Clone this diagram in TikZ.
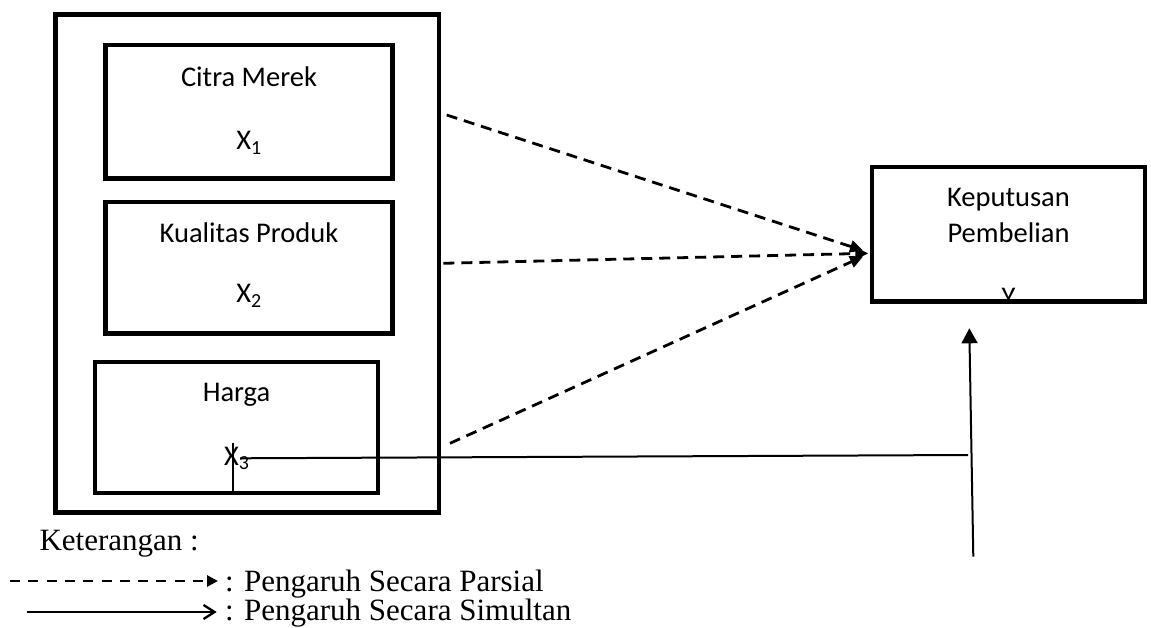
\documentclass[tikz,border=0pt]{standalone}
\usepackage{fontspec}
\setmainfont{Liberation Serif}
\newfontfamily\boxfont{Carlito}
\usetikzlibrary{arrows.meta}
\begin{document}
\begin{tikzpicture}[x=1pt,y=-1pt,
  box/.style={draw, line width=4.5pt, inner sep=0pt, rectangle},
  lbl/.style={font=\boxfont\fontsize{28.5}{34}\selectfont, anchor=base, inner sep=0pt},
  leg/.style={font=\fontsize{31}{37}\selectfont, anchor=base west, inner sep=0pt},
  partial/.style={dash pattern=on 11pt off 7pt, line width=2.8pt, -{Triangle[length=13pt,width=12pt]}},
  simul/.style={line width=2pt},
]
\useasboundingbox (0,0) rectangle (1151,628);
% boxes
\node[box, minimum width=383.5pt, minimum height=498pt] (outer) at (247.25,263.5) {};
\node[box, minimum width=286.6pt, minimum height=133.9pt] (b1) at (249,111.75) {};
\node[box, minimum width=286.6pt, minimum height=131.9pt] (b2) at (249,267.75) {};
\node[box, minimum width=283pt, minimum height=131pt] (b3) at (236.5,427.5) {};
% texts in boxes
\node[lbl] (t1) at (249,86.7) {Citra Merek};
\node[lbl] (x1) at (249,150) {X\textsubscript{1}};
\node[lbl] (t2) at (249,243) {Kualitas Produk};
\node[lbl] (x2) at (249,303) {X\textsubscript{2}};
\node[lbl] (t3) at (236.5,401) {Harga};
\node[lbl, anchor=base west] (x3) at (224,465) {X\textsubscript{3}};
% Y box
\begin{scope}
\clip (872,167) rectangle (1145,298.5);
\node[lbl] (ylab) at (1008.5,306.4) {Y};
\end{scope}
\node[box, minimum width=273pt, minimum height=134.7pt] (yb) at (1008.5,234.35) {};
\node[lbl] (ty1) at (1008.5,206.7) {Keputusan};
\node[lbl] (ty2) at (1008.5,242.7) {Pembelian};
% partial arrows
\coordinate (p1s) at (446.7,115);
\coordinate (p2s) at (443.3,263.3);
\coordinate (p3s) at (450,443.3);
\coordinate (p1e) at (863,250.5);
\coordinate (p2e) at (868.3,253.3);
\coordinate (p3e) at (863,256.5);
\draw[partial] (p1s) -- (p1e);
\draw[partial] (p2s) -- (p2e);
\draw[partial] (p3s) -- (p3e);
% simultaneous
\coordinate (vtop) at (233,443);
\draw[simul] (vtop) -- (vtop |- b3.south);
\coordinate (hs) at (240,458.3);
\coordinate (he) at (968,455);
\draw[simul] (hs) -- (he);
\coordinate (vs) at (973.3,556.7);
\coordinate (vt) at (969.3,328.3);
\draw[simul, -{Triangle[length=15pt,width=16pt]}] (vs) -- (vt);
% legend
\node[leg] (ket) at (39.3,550) {Keterangan :};
\coordinate (l1s) at (10,581);
\coordinate (l1e) at (218,581);
\draw[dash pattern=on 10pt off 8.3pt, line width=2.7pt, -{Triangle[length=11pt,width=11pt]}] (l1s) -- (l1e);
\node[leg] (lp) at (225,591.5) {: Pengaruh Secara Parsial};
\coordinate (l2s) at (26.7,612);
\coordinate (l2e) at (216.7,612);
\draw[line width=2.3pt, -{Straight Barb[length=11pt,width=14pt]}] (l2s) -- (l2e);
\node[leg] (ls) at (225,620.5) {: Pengaruh Secara Simultan};
\end{tikzpicture}
\end{document}
